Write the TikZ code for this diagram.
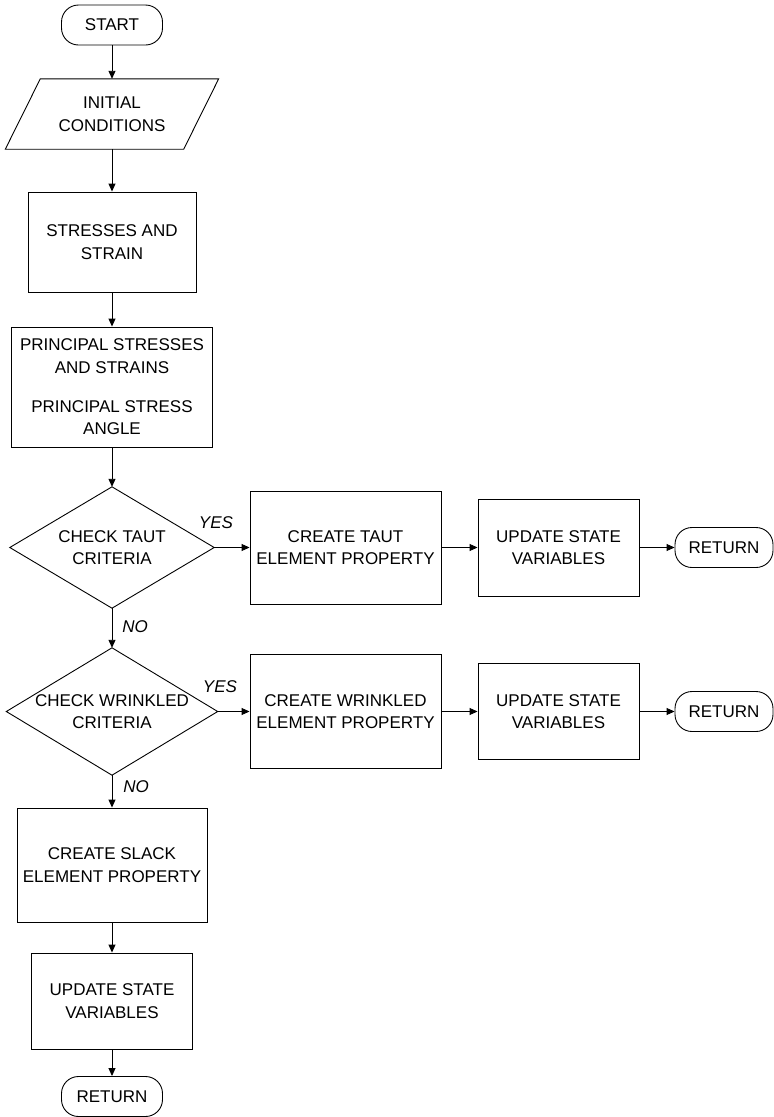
\documentclass[tikz,border=0pt]{standalone}
\usepackage{fontspec}
\setmainfont{Liberation Sans}
\usetikzlibrary{arrows.meta,calc}
\begin{document}
\begin{tikzpicture}[x=1pt,y=-1pt,
  every node/.style={font=\fontsize{17}{22.5}\selectfont, align=center, inner sep=0pt},
  proc/.style={draw, rectangle, line width=0.9pt},
  term/.style={draw, rectangle, rounded corners=17pt, line width=0.9pt},
  ghost/.style={rectangle, draw=none},
  lbl/.style={font=\fontsize{17}{22.5}\selectfont\itshape},
  arr/.style={-{Triangle[length=8pt,width=7pt]}, line width=0.9pt},
  shapeline/.style={line width=0.9pt, line join=miter}
]
\useasboundingbox (0,0) rectangle (774,1117);

% column nodes
\node[term, minimum width=101pt, minimum height=40pt] (start) at (112,25) {START};
\node[ghost, minimum width=213pt, minimum height=70pt] (ic) at (112,114) {INITIAL\\CONDITIONS};
\draw[shapeline] (ic.south west) -- ($(ic.south east)+(-35,0)$) -- (ic.north east) -- ($(ic.north west)+(35,0)$) -- cycle;
\node[proc, minimum width=168pt, minimum height=100pt] (ss) at (112,242) {STRESSES AND\\STRAIN};
\node[proc, minimum width=201pt, minimum height=120pt] (ps) at (112,387) {PRINCIPAL STRESSES\\AND STRAINS\\[16.5pt]PRINCIPAL STRESS\\ANGLE};

% row 1
\node[ghost, minimum width=204pt, minimum height=121pt] (d1) at (112,547.5) {CHECK TAUT\\CRITERIA};
\draw[shapeline] (d1.north) -- (d1.east) -- (d1.south) -- (d1.west) -- cycle;
\node[proc, minimum width=191pt, minimum height=113pt] (ct) at (345.5,547.5) {CREATE TAUT\\ELEMENT PROPERTY};
\node[proc, minimum width=161pt, minimum height=97pt] (u1) at (558.5,547.5) {UPDATE STATE\\VARIABLES};
\node[term, minimum width=98pt, minimum height=40pt] (r1) at (724,547.5) {RETURN};

% row 2
\node[ghost, minimum width=211pt, minimum height=127pt] (d2) at (112,711.5) {CHECK WRINKLED\\CRITERIA};
\draw[shapeline] (d2.north) -- (d2.east) -- (d2.south) -- (d2.west) -- cycle;
\node[proc, minimum width=191pt, minimum height=114pt] (cw) at (345.5,711.5) {CREATE WRINKLED\\ELEMENT PROPERTY};
\node[proc, minimum width=161pt, minimum height=96pt] (u2) at (558.5,711.5) {UPDATE STATE\\VARIABLES};
\node[term, minimum width=98pt, minimum height=40pt] (r2) at (724,711.5) {RETURN};

% bottom column
\node[proc, minimum width=190pt, minimum height=114pt] (sl) at (112,865) {CREATE SLACK\\ELEMENT PROPERTY};
\node[proc, minimum width=161pt, minimum height=96pt] (u3) at (112,1001) {UPDATE STATE\\VARIABLES};
\node[term, minimum width=101pt, minimum height=40pt] (r3) at (112,1096.5) {RETURN};

% labels
\node[lbl] (yes1) at (216,523) {YES};
\node[lbl] (yes2) at (220,687) {YES};
\node[lbl] (no1) at (135,627) {NO};
\node[lbl] (no2) at (136,787) {NO};

% connectors
\draw[arr] (start.south) -- (ic.north);
\draw[arr] (ic.south) -- (ss.north);
\draw[arr] (ss.south) -- (ps.north);
\draw[arr] (ps.south) -- (d1.north);
\draw[arr] (d1.east) -- (ct.west);
\draw[arr] (ct.east) -- (u1.west);
\draw[arr] (u1.east) -- (r1.west);
\draw[arr] (d1.south) -- (d2.north);
\draw[arr] (d2.east) -- (cw.west);
\draw[arr] (cw.east) -- (u2.west);
\draw[arr] (u2.east) -- (r2.west);
\draw[arr] (d2.south) -- (sl.north);
\draw[arr] (sl.south) -- (u3.north);
\draw[arr] (u3.south) -- (r3.north);
\end{tikzpicture}
\end{document}
